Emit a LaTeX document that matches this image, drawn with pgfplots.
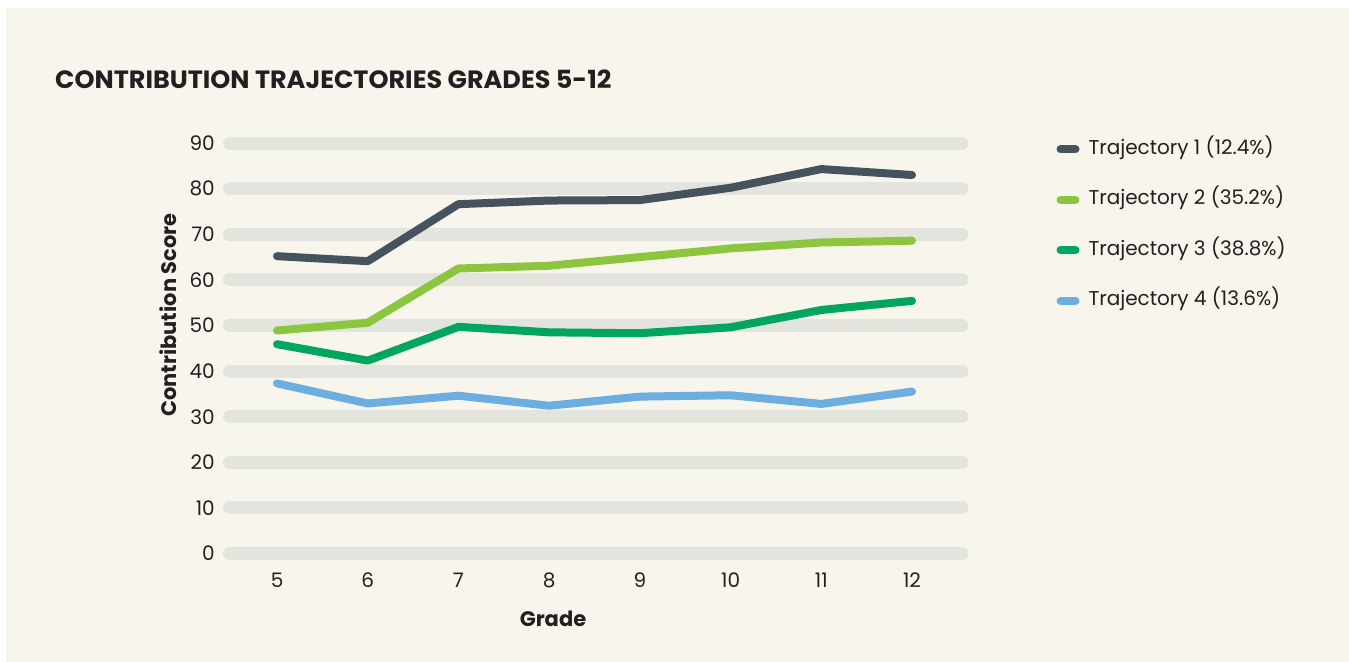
\documentclass[border=0pt]{standalone}
\usepackage{pgfplots}
\pgfplotsset{compat=1.18}
\usepackage{fontspec}
\setmainfont{Poppins}
\newfontfamily\titlefont[FakeStretch=1.02]{Poppins Bold}
\newfontfamily\boldfont{Poppins Bold}
\newfontfamily\regfont{Poppins}
\definecolor{bg}{HTML}{F8F6EC}
\definecolor{gridc}{HTML}{E3E4DE}
\definecolor{txt}{HTML}{231F20}
\definecolor{tone}{HTML}{45535E}
\definecolor{ttwo}{HTML}{8CC63F}
\definecolor{tthree}{HTML}{00A65D}
\definecolor{tfour}{HTML}{6CAEE0}
\begin{document}
\begin{tikzpicture}
\begin{axis}[
  set layers,
  scale only axis, width=732.5pt, height=410.4pt,
  xmin=4.476, xmax=12.551, ymin=0, ymax=90,
  clip=false,
  axis line style={draw=none},
  major tick length=0pt, tick style={draw=none},
  xtick={5,6,7,8,9,10,11,12}, ytick={0,10,20,30,40,50,60,70,80,90},
  ymajorgrids,
  major grid style={line width=13pt, line cap=round, color=gridc},
  /pgf/number format/assume math mode=true,
  tick label style={font=\regfont\fontsize{20}{20}\selectfont, text=txt},
  yticklabel style={anchor=east, inner sep=0pt, xshift=-14.5pt},
  xticklabel style={anchor=north, inner sep=0pt, yshift=-19.5pt},
  xlabel={Grade},
  ylabel={Contribution Score},
  label style={font=\boldfont\fontsize{21}{21}\selectfont, text=txt},
  xlabel style={at={(axis description cs:0.4416,-0.1767)}, anchor=base, inner sep=0pt},
  ylabel style={at={(axis description cs:-0.073,0.581)}, anchor=base, inner sep=0pt},
  legend style={at={(axis description cs:1.1192,1.0122)}, anchor=north west, draw=none, fill=none,
    font=\regfont\fontsize{20}{20}\selectfont, text=txt,
    nodes={inner sep=0pt, text height=14pt, text depth=4pt},
    row sep=32.5pt,
    /tikz/every odd column/.append style={column sep=5pt}},
  legend cell align=left,
  legend image code/.code={\path (0pt,0pt) (23pt,0pt); \draw[#1, line width=8pt, line cap=round] (4pt,0pt) -- (19pt,0pt);},
  every axis plot/.append style={line width=8pt, line join=round, line cap=round},
]
\begin{pgfonlayer}{axis background}
\fill[white] (axis description cs:-0.31331,-0.26438) rectangle (axis description cs:1.52833,1.34868);
\fill[bg] (axis description cs:-0.30512,-0.26438) rectangle (axis description cs:1.52833,1.32919);
\end{pgfonlayer}
\node[anchor=base west, inner sep=0pt, text=txt, font=\titlefont\fontsize{25}{25}\selectfont] at (axis description cs:-0.23823,1.13182) {CONTRIBUTION TRAJECTORIES GRADES 5-12};
\addplot[color=tone] coordinates {(5,65.2) (6,64.1) (7,76.6) (8,77.4) (9,77.5) (10,80.2) (11,84.3) (12,83.0)};
\addlegendentry{Trajectory 1 (12.4\%)}
\addplot[color=ttwo] coordinates {(5,48.9) (6,50.6) (7,62.5) (8,63.1) (9,65.0) (10,66.9) (11,68.2) (12,68.6)};
\addlegendentry{Trajectory 2 (35.2\%)}
\addplot[color=tthree] coordinates {(5,45.9) (6,42.3) (7,49.7) (8,48.5) (9,48.3) (10,49.6) (11,53.4) (12,55.4)};
\addlegendentry{Trajectory 3 (38.8\%)}
\addplot[color=tfour] coordinates {(5,37.3) (6,32.9) (7,34.6) (8,32.4) (9,34.4) (10,34.7) (11,32.8) (12,35.5)};
\addlegendentry{Trajectory 4 (13.6\%)}
\end{axis}
\end{tikzpicture}
\end{document}
